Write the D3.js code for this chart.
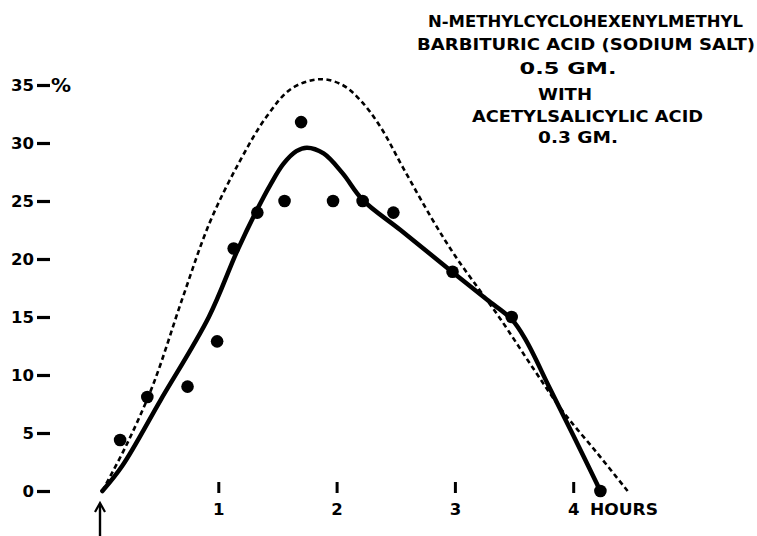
<!DOCTYPE html>
<html>
<head>
<meta charset="utf-8">
<script src="https://cdn.jsdelivr.net/npm/d3@7"></script>
<style>
  html, body { margin: 0; padding: 0; background: #fff; }
  svg { display: block; }
  text { font-family: "DejaVu Sans", "Liberation Sans", sans-serif; font-weight: bold; fill: #000; }
</style>
</head>
<body>
<svg id="chart" width="757" height="536"></svg>
<script>
// Observed blood level (%) at each time (hours) after the dose
const obsHours  = [0.17, 0.40, 0.74, 0.99, 1.13, 1.33, 1.56, 1.70, 1.97, 2.22, 2.48, 2.98, 3.48, 4.23];
const obsValues = [4.4, 8.1, 9.0, 12.9, 20.9, 24.0, 25.0, 31.8, 25.0, 25.0, 24.0, 18.9, 15.0, 0];

// Smoothed curve through the observations (solid)
const fitHours  = [0.02, 0.19, 0.51, 0.92, 1.16, 1.33, 1.44, 1.55, 1.66, 1.75, 1.89, 2.05, 2.22, 2.54, 2.97, 3.27, 3.48, 3.60, 3.80, 4.00, 4.23];
const fitValues = [0, 2.2, 7.8, 15.0, 20.7, 24.3, 26.4, 28.2, 29.3, 29.6, 29.1, 27.4, 25.1, 22.5, 18.95, 16.5, 14.8, 13.0, 8.9, 4.8, 0];

// Comparison curve (dashed)
const refHours  = [0.02, 0.23, 0.45, 0.70, 0.93, 1.18, 1.41, 1.62, 1.86, 2.05, 2.20, 2.37, 2.56, 2.81, 3.00, 3.21, 3.38, 3.66, 3.91, 4.20, 4.46];
const refValues = [0, 4.1, 9.2, 16.7, 23.2, 28.4, 32.3, 34.7, 35.5, 35.0, 33.7, 31.4, 27.9, 23.4, 20.3, 17.3, 14.9, 10.6, 6.9, 3.3, 0];

const yTicks = [0, 5, 10, 15, 20, 25, 30, 35];
const xTicks = [1, 2, 3, 4];
const xUnit = "HOURS";
const yUnit = "%";
const titleLines = [
  "N-METHYLCYCLOHEXENYLMETHYL",
  "BARBITURIC ACID (SODIUM SALT)",
  "0.5 GM.",
  "WITH",
  "ACETYLSALICYLIC ACID",
  "0.3 GM."
];

const svg = d3.select("#chart");

const x = d3.scaleLinear().domain([0, 4]).range([100, 573.2]);
const y = d3.scaleLinear().domain([0, 35]).range([491, 85]);

// Y axis: numbers followed by a short dash
const yAxis = svg.append("g")
  .attr("transform", "translate(50,0)")
  .call(d3.axisLeft(y).tickValues(yTicks).tickSize(13).tickPadding(3));
yAxis.select(".domain").remove();
yAxis.selectAll(".tick line").attr("stroke", "#000").attr("stroke-width", 3.2);
yAxis.selectAll(".tick text")
  .attr("font-size", 16.5)
  .attr("dy", "0.36em")
  .attr("fill", "#000");

svg.append("text")
  .attr("x", 51).attr("y", y(35) + 7)
  .attr("font-size", 20)
  .text(yUnit);

// X axis: small vertical marks above the hour numbers
const xAxis = svg.append("g")
  .attr("transform", "translate(0,482)")
  .call(d3.axisBottom(x).tickValues(xTicks).tickSize(11).tickPadding(10).tickFormat(d3.format("d")));
xAxis.select(".domain").remove();
xAxis.selectAll(".tick line").attr("stroke", "#000").attr("stroke-width", 3);
xAxis.selectAll(".tick text")
  .attr("font-size", 16.5)
  .attr("dy", "0.71em")
  .attr("fill", "#000");

svg.append("text")
  .attr("x", 590).attr("y", 515)
  .attr("font-size", 16)
  .attr("textLength", 68).attr("lengthAdjust", "spacingAndGlyphs")
  .text(xUnit);

// Arrow marking the time of administration
const ax = x(0);
svg.append("line")
  .attr("x1", ax).attr("x2", ax).attr("y1", 504).attr("y2", 536)
  .attr("stroke", "#000").attr("stroke-width", 2.4);
svg.append("path")
  .attr("d", `M${ax - 5},${512} L${ax},${503} L${ax + 5},${512}`)
  .attr("fill", "none").attr("stroke", "#000").attr("stroke-width", 2.2);

// Curves
const line = d3.line()
  .x(d => x(d[0]))
  .y(d => y(d[1]))
  .curve(d3.curveCatmullRom.alpha(0.5));

svg.append("path")
  .datum(d3.zip(refHours, refValues))
  .attr("d", line)
  .attr("fill", "none")
  .attr("stroke", "#000")
  .attr("stroke-width", 2.6)
  .attr("stroke-dasharray", "5,3.5");

svg.append("path")
  .datum(d3.zip(fitHours, fitValues))
  .attr("d", line)
  .attr("fill", "none")
  .attr("stroke", "#000")
  .attr("stroke-width", 4.5)
  .attr("stroke-linecap", "round")
  .attr("stroke-linejoin", "round");

// Observed points
svg.append("g")
  .selectAll("circle")
  .data(d3.zip(obsHours, obsValues))
  .join("circle")
  .attr("cx", d => x(d[0]))
  .attr("cy", d => y(d[1]))
  .attr("r", 6.3)
  .attr("fill", "#000");

// Title block in the upper right
const titleLayout = [
  { cx: 585.5, y: 27,  w: 315 },
  { cx: 586,   y: 50,  w: 338 },
  { cx: 568,   y: 74,  w: 97 },
  { cx: 565,   y: 100, w: 54 },
  { cx: 587.5, y: 122, w: 231 },
  { cx: 578,   y: 143, w: 80 }
];
svg.append("g")
  .selectAll("text")
  .data(titleLines)
  .join("text")
  .attr("x", (d, i) => titleLayout[i].cx - titleLayout[i].w / 2)
  .attr("y", (d, i) => titleLayout[i].y)
  .attr("font-size", 16.5)
  .attr("textLength", (d, i) => titleLayout[i].w)
  .attr("lengthAdjust", "spacingAndGlyphs")
  .text(d => d);
</script>
</body>
</html>
